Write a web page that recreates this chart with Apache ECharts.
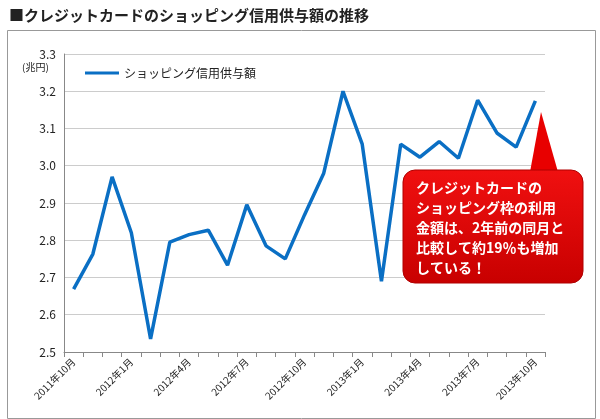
<!DOCTYPE html><html><head><meta charset="utf-8"><script src="https://cdn.jsdelivr.net/npm/echarts@6/dist/echarts.min.js"></script>
<style>body{margin:0}#c{width:600px;height:419px}</style></head><body><div id="c"></div><script>
const categories=['2011年10月','2011年11月','2011年12月','2012年1月','2012年2月','2012年3月','2012年4月','2012年5月','2012年6月','2012年7月','2012年8月','2012年9月','2012年10月','2012年11月','2012年12月','2013年1月','2013年2月','2013年3月','2013年4月','2013年5月','2013年6月','2013年7月','2013年8月','2013年9月','2013年10月'];
const values=[2.669,2.763,2.97,2.82,2.535,2.795,2.815,2.827,2.733,2.895,2.785,2.75,2.868,2.98,3.2,3.058,2.69,3.058,3.023,3.065,3.02,3.176,3.088,3.05,3.174];
const F='"Noto Sans CJK JP",sans-serif';
const ch=echarts.init(document.getElementById('c'));
ch.setOption({animation:false,backgroundColor:'#fff',
title:{text:'■クレジットカードのショッピング信用供与額の推移',left:4,top:3,textStyle:{fontFamily:F,fontSize:15,fontWeight:'bold',color:'#222'}},
legend:{left:80,top:62,itemWidth:34,itemHeight:3,icon:'rect',textStyle:{fontFamily:F,fontSize:12,color:'#222'},data:['ショッピング信用供与額']},
grid:{left:64,width:481,top:54,bottom:67},
xAxis:{type:'category',data:categories,boundaryGap:true,axisLine:{lineStyle:{color:'#888'}},axisTick:{show:true,interval:0,lineStyle:{color:'#888'}},axisLabel:{interval:2,rotate:45,fontFamily:F,fontSize:10,color:'#222'}},
yAxis:{type:'value',min:2.5,max:3.3,interval:0.1,axisLine:{show:true,lineStyle:{color:'#888'}},axisLabel:{formatter:v=>v.toFixed(1),fontFamily:F,fontSize:12,color:'#222'},splitLine:{lineStyle:{color:'#ccc'}}},
series:[{name:'ショッピング信用供与額',type:'line',data:values,symbol:'none',lineStyle:{width:3.5,color:'#0a6fc4'},itemStyle:{color:'#0a6fc4'}}],
graphic:[
{type:'rect',left:5,top:28,z:1,shape:{width:588,height:388},style:{fill:'none',stroke:'#999',lineWidth:1},silent:true},
{type:'text',left:22,top:62,style:{text:'(兆円)',font:'10px '+F,fill:'#222'}},
{type:'group',z:100,children:[
{type:'polygon',z:100,shape:{points:[[530,172],[558,172],[541,112]]},style:{fill:'#e80000'}},
{type:'rect',z:100,shape:{x:403,y:170,width:180,height:113,r:12},style:{fill:new echarts.graphic.LinearGradient(0,0,0,1,[{offset:0,color:'#f01010'},{offset:1,color:'#c80000'}]),stroke:'#b00000',lineWidth:1}},
{type:'text',z:101,x:416,y:178,style:{text:'クレジットカードの\nショッピング枠の利用\n金額は、2年前の同月と\n比較して約19％も増加\nしている！',font:'bold 14px '+F,fill:'#fff',lineHeight:20}}]}
]});
</script></body></html>
